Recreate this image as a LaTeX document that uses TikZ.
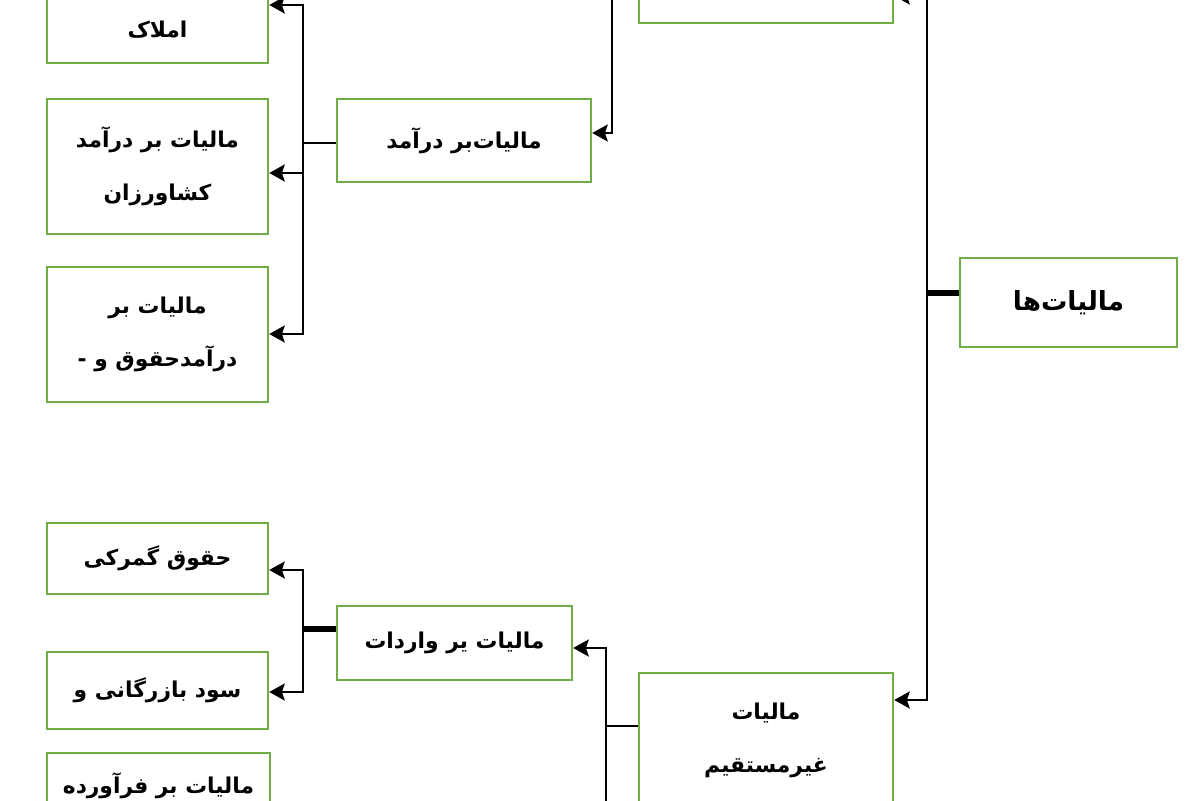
\documentclass[tikz,border=0pt]{standalone}
\usepackage{fontspec}
\newfontfamily\arabicfont[Script=Arabic]{DejaVu Sans}
\TeXXeTstate=1
\usetikzlibrary{arrows.meta}
\definecolor{boxgreen}{HTML}{70AD47}
\newcommand\rtl[1]{\beginR #1\endR}
\tikzset{
  box/.style={draw=boxgreen, line width=1.7pt, fill=white, inner sep=0pt, align=center,
    font=\arabicfont\bfseries\fontsize{15.5}{37.5}\selectfont},
  txt/.style={inner sep=0pt, align=center, font=\arabicfont\bfseries\fontsize{15.5}{37.5}\selectfont},
  bigtxt/.style={font=\arabicfont\bfseries\fontsize{18.7}{37.5}\selectfont},
  conn/.style={draw=black, line width=2.1pt},
  thickconn/.style={draw=black, line width=3.6pt},
  arr/.style={conn, arrows={-Stealth[length=11pt,width=12pt,inset=2pt,fill=black]}},
}
\begin{document}
\begin{tikzpicture}[x=0.025cm, y=-0.025cm]
\useasboundingbox (0,0) rectangle (1200,800);
\clip (0,0) rectangle (1200,800);
\fill[white] (0,0) rectangle (1200,800);

% ---- nodes ----
\node[box, minimum width=5.525cm, minimum height=3.375cm] (melk) at (157.5,-4.5) {};
\node[txt] (melktxt) at (157.5,30) {\rtl{املاک}};
\node[box, minimum width=5.525cm, minimum height=3.375cm] (keshavarz) at (157.5,166.5)
  {\rtl{مالیات بر درآمد}\\\rtl{کشاورزان}};
\node[box, minimum width=5.525cm, minimum height=3.375cm] (hoghogh) at (157.5,334.5)
  {\rtl{مالیات بر}\\\rtl{درآمدحقوق و -}};
\node[box, minimum width=6.35cm, minimum height=2.075cm] (daramad) at (464,140.5)
  {\rtl{مالیات‌بر درآمد}};
\node[box, minimum width=6.35cm, minimum height=2.075cm] (mostaghim) at (766,-18.5) {};
\node[box, bigtxt, minimum width=5.425cm, minimum height=2.225cm] (maliyatha) at (1068.5,302.5)
  {\rtl{مالیات‌ها}};

\node[box, minimum width=5.525cm, minimum height=1.775cm] (gomrok) at (157.5,558.5)
  {\rtl{حقوق گمرکی}};
\node[box, minimum width=5.525cm, minimum height=1.925cm] (sood) at (157.5,690.5)
  {\rtl{سود بازرگانی و}};
\node[box, minimum width=5.575cm, minimum height=3.375cm] (faravarde) at (158.5,820.5) {};
\node[txt] (faravardetxt) at (158.5,786) {\rtl{مالیات بر فرآورده}};
\node[box, minimum width=5.875cm, minimum height=1.85cm] (varedat) at (454.5,643)
  {\rtl{مالیات یر واردات}};
\node[box, minimum width=6.35cm, minimum height=3.375cm] (gheyr) at (766,740.5)
  {\rtl{مالیات}\\\rtl{غیرمستقیم}};

% ---- junction coordinates ----
\coordinate (trunk) at (927,293);
\coordinate (j1) at (612,0);
\coordinate (b1) at (303,143);
\coordinate (b2) at (303,629);
\coordinate (b3) at (606,726);
\coordinate (b3end) at (606,830);

% ---- connectors ----
\draw[thickconn] (maliyatha.west |- trunk) -- (trunk);
\draw[arr] (trunk) |- (mostaghim.east |- 0,-4);
\draw[arr] (trunk) |- (gheyr.east |- 0,700);

\draw[arr] (mostaghim.west) -- (mostaghim.west -| j1) |- (daramad.east |- 0,133);

\draw[conn] (daramad.west |- b1) -- (b1);
\draw[arr] (b1) |- (melk.east |- 0,5);
\draw[arr] (b1) |- (keshavarz.east |- 0,173);
\draw[arr] (b1) |- (hoghogh.east |- 0,334);

\draw[conn] (gheyr.west |- b3) -- (b3);
\draw[arr] (b3) |- (varedat.east |- 0,648);
\draw[conn] (b3) -- (b3end);

\draw[thickconn] (varedat.west |- b2) -- (b2);
\draw[arr] (b2) |- (gomrok.east |- 0,570);
\draw[arr] (b2) |- (sood.east |- 0,692);
\end{tikzpicture}
\end{document}
